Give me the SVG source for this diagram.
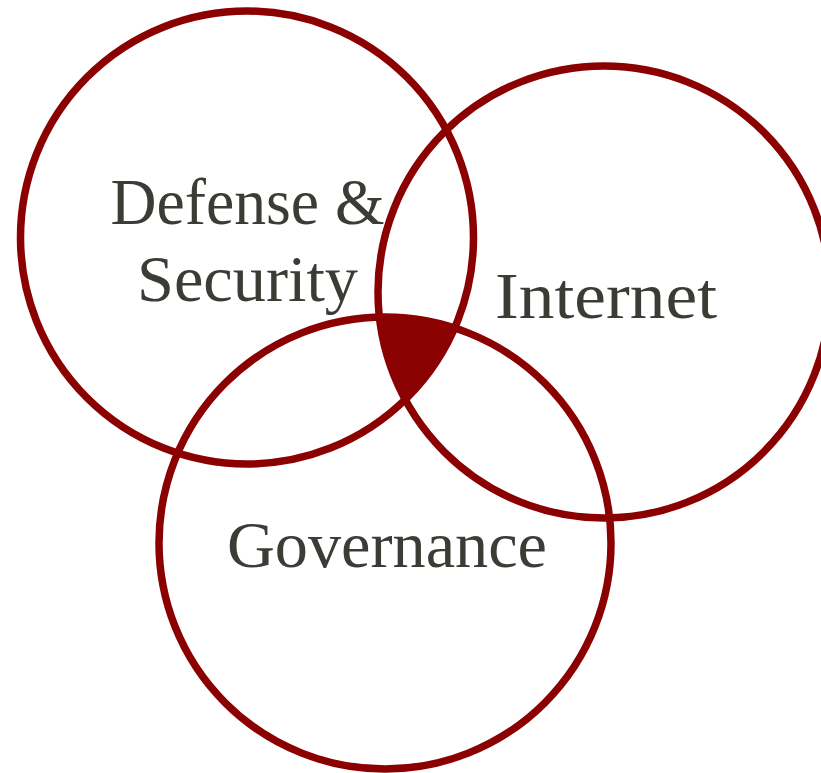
<svg xmlns="http://www.w3.org/2000/svg" width="821" height="773" viewBox="0 0 821 773">
<style>
.ring{fill:none;stroke:#8b0000;stroke-width:7.5}
.lbl{font-family:"Liberation Serif","DejaVu Serif",serif;font-size:65px;fill:#3c3c36;text-anchor:middle}
</style>
<defs>
<clipPath id="c2"><circle cx="604" cy="292" r="226"/></clipPath>
<clipPath id="c3"><circle cx="385" cy="543" r="226"/></clipPath>
</defs>
<g id="overlap" clip-path="url(#c3)">
<circle cx="247" cy="237.5" r="226.5" fill="#8b0000" clip-path="url(#c2)"/>
</g>
<g id="connectors"></g>
<g id="defense-security">
<circle class="ring" cx="247" cy="237.5" r="226.5"/>
<text class="lbl" x="247.5" y="224" textLength="274" lengthAdjust="spacingAndGlyphs">Defense &amp;</text>
<text class="lbl" x="247.5" y="301" textLength="221" lengthAdjust="spacingAndGlyphs">Security</text>
</g>
<g id="internet">
<circle class="ring" cx="604" cy="292" r="226"/>
<text class="lbl" x="606" y="318" textLength="222" lengthAdjust="spacingAndGlyphs">Internet</text>
</g>
<g id="governance">
<circle class="ring" cx="385" cy="543" r="226"/>
<text class="lbl" x="387" y="567" textLength="320" lengthAdjust="spacingAndGlyphs">Governance</text>
</g>
</svg>
